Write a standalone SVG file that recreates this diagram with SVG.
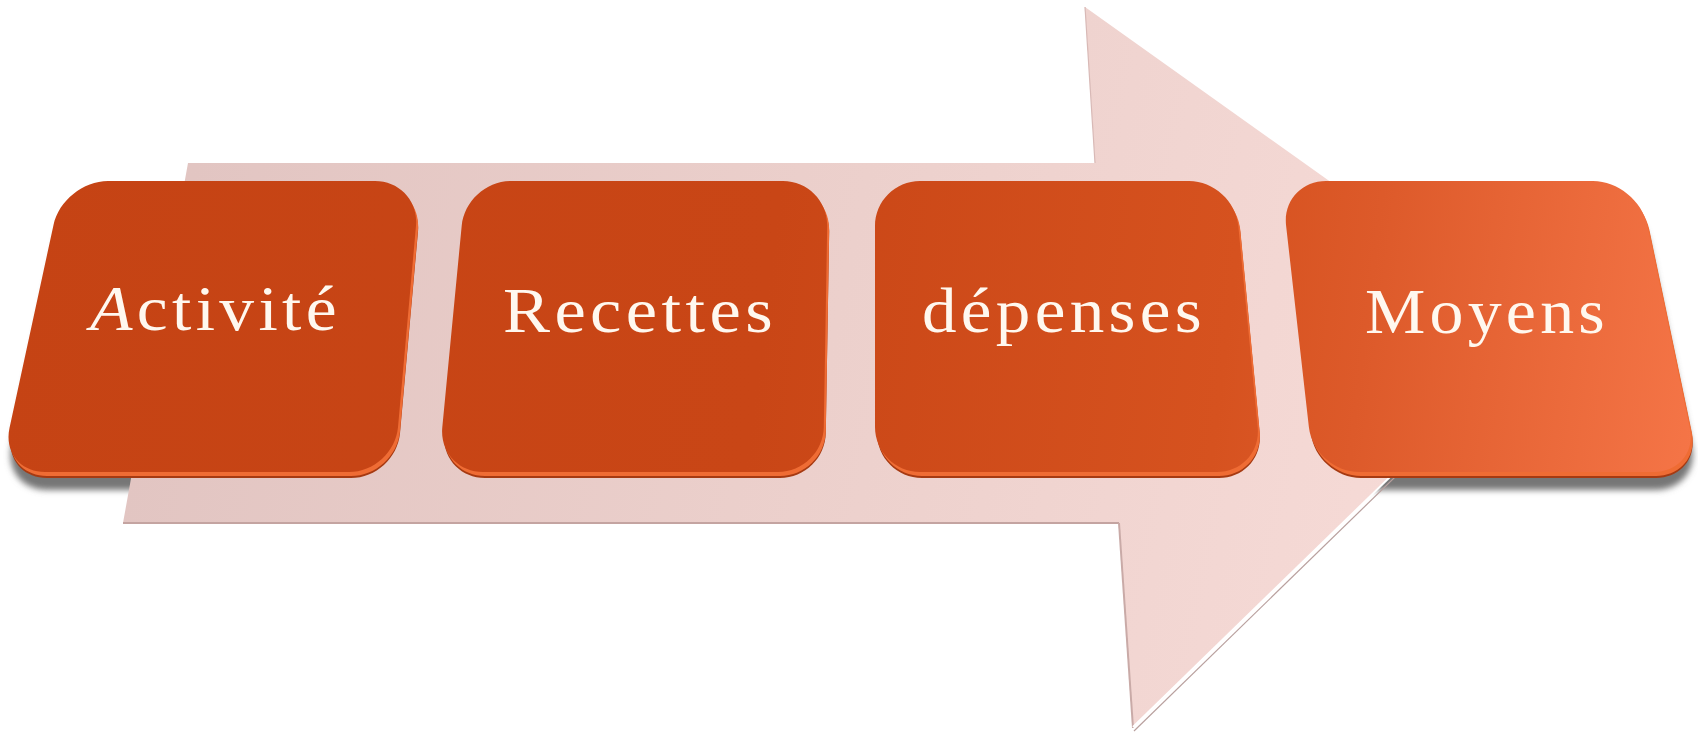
<svg xmlns="http://www.w3.org/2000/svg" xmlns:xlink="http://www.w3.org/1999/xlink" width="1698" height="734" viewBox="0 0 1698 734">
  <style>
    .label { font-family: "Liberation Serif", "Times New Roman", serif; font-size: 64px; letter-spacing: 4px; fill: #fff8ef; }
    .shadow { fill: #767676; filter: url(#blur); }
    .base { fill: #a63a12; }
    .rim { fill: #ef6c34; }
    .face { fill: url(#faceGrad); }
  </style>
  <defs>
    <filter id="blur" x="-10%" y="-10%" width="120%" height="130%">
      <feGaussianBlur stdDeviation="3"/>
    </filter>
    <linearGradient id="arrowGrad" gradientUnits="userSpaceOnUse" x1="120" y1="200" x2="1540" y2="500">
      <stop offset="0" stop-color="#e1c4c1"/>
      <stop offset="0.5" stop-color="#ecd0cc"/>
      <stop offset="1" stop-color="#f8dcd8"/>
    </linearGradient>
    <linearGradient id="faceGrad" gradientUnits="userSpaceOnUse" x1="0" y1="220" x2="1698" y2="430">
      <stop offset="0" stop-color="#c54314"/>
      <stop offset="0.45" stop-color="#c94616"/>
      <stop offset="0.72" stop-color="#d6521f"/>
      <stop offset="0.8" stop-color="#dd5a2a"/>
      <stop offset="1" stop-color="#f57547"/>
    </linearGradient>
    <path id="b1" d="M108,181 L375,181 C399.8,181 418.2,201.1 416,225.8 L398,427.2 C395.8,451.9 373.8,472 349,472 L45,472 C20.2,472 4.3,452.3 9.5,428 L53.5,225 C58.7,200.7 83.2,181 108,181 Z"/>
    <path id="b2" d="M511,181 L783,181 C807.8,181 827.6,201.2 827.2,226 L823.8,427 C823.4,451.8 802.8,472 778,472 L483,472 C458.2,472 439.9,451.9 442.3,427.2 L461.7,225.8 C464.1,201.1 486.2,181 511,181 Z"/>
    <path id="b3" d="M920,181 L1189,181 C1213.8,181 1235.9,201.1 1238.3,225.8 L1257.7,427.2 C1260.1,451.9 1241.8,472 1217,472 L920,472 C895.2,472 875,451.8 875,427 L875,226 C875,201.2 895.2,181 920,181 Z"/>
    <path id="b4" d="M1326,181 L1593,181 C1617.8,181 1642.1,200.7 1647.2,225 L1689.8,428 C1694.9,452.3 1678.8,472 1654,472 L1359,472 C1334.2,472 1311.7,452 1308.9,427.3 L1286.1,225.7 C1283.3,201 1301.2,181 1326,181 Z"/>
  </defs>

  <rect width="1698" height="734" fill="#ffffff"/>

  <g id="shadows">
    <use xlink:href="#b1" class="shadow" transform="translate(2,18)"/>
    <use xlink:href="#b2" class="shadow" transform="translate(2,18)"/>
    <use xlink:href="#b3" class="shadow" transform="translate(2,18)"/>
    <use xlink:href="#b4" class="shadow" transform="translate(2,18)"/>
  </g>

  <g id="background-arrow">
    <path d="M188,163 L1095,163 L1085,7 L1540,331 L1133,728 L1119,523 L123,523 Z" fill="url(#arrowGrad)"/>
    <path d="M123,523 L1119,523" stroke="#c4a4a1" stroke-width="2" fill="none"/>
    <path d="M1119,523 L1133,728" stroke="#c9aaa7" stroke-width="2" fill="none"/>
    <path d="M1133,727 L1540,331" stroke="#ffffff" stroke-width="2" fill="none"/>
    <path d="M1134,731 L1541,335" stroke="#b9a09e" stroke-width="1.2" fill="none"/>
    <path d="M1085,7 L1095,163" stroke="#d8b9b6" stroke-width="1.2" fill="none"/>
  </g>

  <g id="connectors"></g>

  <g id="node-activite">
    <use xlink:href="#b1" class="base" transform="translate(2,6)"/>
    <use xlink:href="#b1" class="rim" transform="translate(2,4)"/>
    <use xlink:href="#b1" class="face"/>
    <text class="label" x="90" y="330" textLength="251" lengthAdjust="spacingAndGlyphs"><tspan font-style="italic">A</tspan>ctivité</text>
  </g>
  <g id="node-recettes">
    <use xlink:href="#b2" class="base" transform="translate(2,6)"/>
    <use xlink:href="#b2" class="rim" transform="translate(2,4)"/>
    <use xlink:href="#b2" class="face"/>
    <text class="label" x="503" y="332" textLength="274" lengthAdjust="spacingAndGlyphs">Recettes</text>
  </g>
  <g id="node-depenses">
    <use xlink:href="#b3" class="base" transform="translate(2,6)"/>
    <use xlink:href="#b3" class="rim" transform="translate(2,4)"/>
    <use xlink:href="#b3" class="face"/>
    <text class="label" x="922" y="332" textLength="284" lengthAdjust="spacingAndGlyphs">dépenses</text>
  </g>
  <g id="node-moyens">
    <use xlink:href="#b4" class="base" transform="translate(2,6)"/>
    <use xlink:href="#b4" class="rim" transform="translate(2,4)"/>
    <use xlink:href="#b4" class="face"/>
    <text class="label" x="1365" y="333" textLength="244" lengthAdjust="spacingAndGlyphs">Moyens</text>
  </g>
</svg>
